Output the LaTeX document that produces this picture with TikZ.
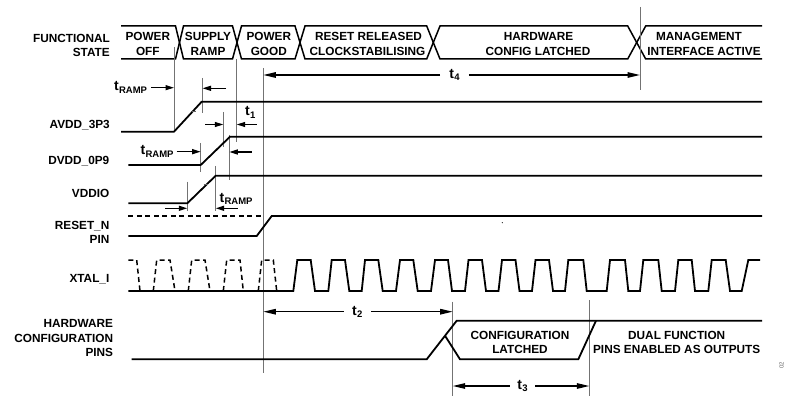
\documentclass[tikz,border=0pt]{standalone}
\usepackage{fontspec}
\setmainfont{Liberation Sans}
\usetikzlibrary{arrows.meta}
\newcommand{\tsubx}[1]{t\kern0.2pt\raisebox{-2.5pt}{\fontsize{9.5}{10}\selectfont #1}}
\begin{document}
\begin{tikzpicture}[x=1pt,y=-1pt,
  txt/.style={font=\fontsize{11.8}{14}\selectfont\bfseries, inner sep=0pt},
  lab/.style={txt, anchor=base east},
  stt/.style={txt, anchor=base},
  tlab/.style={font=\fontsize{14}{16}\selectfont\bfseries, inner sep=0pt},
  sig/.style={line width=1.8pt, line join=miter, line cap=butt},
  dsig/.style={line width=1.5pt, line join=miter, dash pattern=on 5pt off 3.5pt},
  bar/.style={line width=1.5pt, line join=miter},
  refl/.style={line width=0.9pt, draw=black!55},
  dimarr/.style={line width=1.3pt, -{Triangle[length=8.5pt,width=5pt]}},
  longarr/.style={line width=1.3pt, -{Triangle[length=12.5pt,width=5.5pt]}},
  tick/.style={line width=0.7pt, draw=black!60},
]
\useasboundingbox (0,0) rectangle (786,398);

% ---------- functional state bar ----------
\draw[bar] (121,26) -- (175.5,26) -- (179.5,42.5) -- (175.5,59) -- (121,59);
\draw[bar] (179.5,42.5) -- (183.5,26) -- (232.5,26) -- (237,42.5) -- (232.5,59) -- (183.5,59) -- cycle;
\draw[bar] (237,42.5) -- (241.5,26) -- (295,26) -- (300,42.5) -- (295,59) -- (241.5,59) -- cycle;
\draw[bar] (300,42.5) -- (305,26) -- (426.7,26) -- (433.3,42.5) -- (426.7,59) -- (305,59) -- cycle;
\draw[bar] (433.3,42.5) -- (440,26) -- (627.7,26) -- (636.7,42.5) -- (627.7,59) -- (440,59) -- cycle;
\draw[bar] (762,26) -- (645.7,26) -- (636.7,42.5) -- (645.7,59) -- (762,59);

\node[stt] (s1a) at (147.8,40.8) {POWER};
\node[stt] (s1b) at (147.8,55.2) {OFF};
\node[stt] (s2a) at (208,40.8) {SUPPLY};
\node[stt] (s2b) at (208,55.2) {RAMP};
\node[stt] (s3a) at (268.8,40.8) {POWER};
\node[stt] (s3b) at (268.8,55.2) {GOOD};
\node[stt] (s4a) at (368.5,40.8) {RESET RELEASED};
\node[stt] (s4b) at (367.5,55.2) {CLOCKSTABILISING};
\node[stt] (s5a) at (538.5,40.8) {HARDWARE};
\node[stt] (s5b) at (538,55.2) {CONFIG LATCHED};
\node[stt] (s6a) at (699,40.8) {MANAGEMENT};
\node[stt] (s6b) at (704,55.2) {INTERFACE ACTIVE};

% ---------- left labels ----------
\node[lab] (lf1) at (110,43) {FUNCTIONAL};
\node[lab] (lf2) at (110,57) {STATE};
\node[lab] (lav) at (110,128.3) {AVDD\_3P3};
\node[lab] (ldv) at (109.5,164.3) {DVDD\_0P9};
\node[lab] (lvd) at (109.5,197.5) {VDDIO};
\node[lab] (lrs1) at (109.5,229) {RESET\_N};
\node[lab] (lrs2) at (109.5,243) {PIN};
\node[lab] (lxt) at (109.5,282) {XTAL\_I};
\node[lab] (lh1) at (113.3,327.7) {HARDWARE};
\node[lab] (lh2) at (113.3,342) {CONFIGURATION};
\node[lab] (lh3) at (113.3,356) {PINS};

% ---------- vertical reference lines ----------
\coordinate (vA0) at (174,47);    \draw[refl] (vA0) -- (174,131.7);
\coordinate (vA1) at (202.5,78);  \draw[refl] (vA1) -- (202.5,113);
\coordinate (vD0) at (200.7,143); \draw[refl] (vD0) -- (200.7,172);
\coordinate (vD1) at (229.3,135); \draw[refl] (vD1) -- (229.3,180);
\coordinate (vT)  at (223.3,112); \draw[refl] (vT) -- (223.3,147);
\coordinate (vP)  at (236.7,59);  \draw[refl] (vP) -- (236.7,142);
\coordinate (vV0) at (187.3,181.7); \draw[refl] (vV0) -- (187.3,211);
\coordinate (vV1) at (215.7,166); \draw[refl] (vV1) -- (215.7,211);
\coordinate (vR)  at (263.3,68);  \draw[refl] (vR) -- (263.3,373);
\coordinate (vC0) at (452.7,301.7); \draw[refl] (vC0) -- (452.7,396);
\coordinate (vC1) at (589.3,300); \draw[refl] (vC1) -- (589.3,396);
\coordinate (vM)  at (640,7);     \draw[refl] (vM) -- (640,90);

% ---------- supply signals ----------
\draw[sig] (121,131.7) -- (174,131.7) -- (201.7,101.7) -- (762,101.7);
\draw[sig] (128.3,165) -- (200.7,165) -- (230,136.7) -- (762,136.7);
\draw[sig] (128.3,203.3) -- (187.3,203.3) -- (215.7,175.7) -- (762,175.7);
\draw[tick] (191.5,111.3) -- (195.5,111.3);
\draw[tick] (203.5,184.3) -- (207.5,184.3);

% ---------- RESET_N ----------
\draw[dsig] (128.3,216) -- (264,216);
\draw[sig] (128.3,236) -- (256.7,236) -- (271.7,216) -- (762,216);
\fill (502.3,222.7) circle (0.6pt);

% ---------- XTAL_I ----------
\draw[dsig] (128.3,260) -- (136.7,260) -- (140,291);
\draw[dsig] (153.3,291) -- (156.7,260) -- (170,260) -- (175,291);
\draw[dsig] (188.3,291) -- (191.7,260) -- (205,260) -- (210,291);
\draw[dsig] (223.3,291) -- (226.7,260) -- (240,260) -- (243.3,291);
\draw[dsig] (258.3,291) -- (261.7,260) -- (273.3,260) -- (276.7,291);
\draw[sig] (128.3,291) -- (293.3,291) -- (297.3,260) -- (310.7,260) -- (315,291)
  -- (328.3,291) -- (331.7,260) -- (345,260) -- (349.3,291)
  -- (361.7,291) -- (365,260) -- (378.3,260) -- (382.7,291)
  -- (396,291) -- (400,260) -- (413.3,260) -- (417.7,291)
  -- (431,291) -- (435,260) -- (448,260) -- (452,291)
  -- (465,291) -- (468.5,260) -- (482,260) -- (486,291)
  -- (498.5,291) -- (502,260) -- (515.5,260) -- (519.5,291)
  -- (532,291) -- (535.5,260) -- (549,260) -- (553,291)
  -- (565,291) -- (568.3,260) -- (583.3,260) -- (586.7,291)
  -- (606.7,291) -- (610,260) -- (625,260) -- (628.3,291)
  -- (640,291) -- (643.3,260) -- (658.3,260) -- (661.7,291)
  -- (675,291) -- (678.3,260) -- (691.7,260) -- (695,291)
  -- (708.3,291) -- (711.7,260) -- (725.7,260) -- (730,291)
  -- (741.7,291) -- (748.3,260) -- (760,260);

% ---------- hardware configuration pins ----------
\draw[sig] (131.7,359.3) -- (426.7,359.3) -- (456.7,320.7) -- (762,320.7);
\draw[sig] (445,335.7) -- (460,359.3) -- (578.3,359.3) -- (596,320.7);
\node[stt] (cl1) at (520,339) {CONFIGURATION};
\node[stt] (cl2) at (520,353.3) {LATCHED};
\node[stt] (df1) at (676.7,339) {DUAL FUNCTION};
\node[stt] (df2) at (676.7,353.3) {PINS ENABLED AS OUTPUTS};

% ---------- timing annotations ----------
\node[tlab, anchor=base west] (lr1) at (114,91) {\tsubx{RAMP}};
\draw[dimarr] ([xshift=4pt]lr1.east) -- (lr1.east -| vA0);
\coordinate (a1s) at (226,88.3);
\coordinate (a1e) at (202.5,88.3);
\draw[dimarr] (a1s) -- (a1e);

\coordinate (t1s) at (205,124.5);
\draw[dimarr] (t1s) -- (t1s -| vT);
\node[tlab, anchor=base west] (lt1) at (245,116) {\tsubx{1}};
\coordinate (t1e) at (256.7,124.5);
\draw[dimarr] (t1e) -- (t1e -| vP);

\node[tlab, anchor=base west] (lr2) at (140.5,155) {\tsubx{RAMP}};
\draw[dimarr] ([xshift=3pt]lr2.east) -- (lr2.east -| vD0);
\coordinate (a2s) at (251.7,152);
\draw[dimarr] (a2s) -- (a2s -| vD1);

\coordinate (a3s) at (165,208.3);
\draw[dimarr] (a3s) -- (a3s -| vV0);
\node[tlab, anchor=base west] (lr3) at (219.5,202) {\tsubx{RAMP}};
\coordinate (a3e) at (237.5,208.3);
\draw[dimarr] (a3e) -- (a3e -| vV1);

\node[tlab, inner xsep=9pt] (lt4) at (454.5,75) {\tsubx{4}};
\draw[longarr] (lt4.west) -- (lt4.west -| vR);
\draw[longarr] (lt4.east) -- (lt4.east -| vM);

\node[tlab, inner xsep=8.5pt] (lt2) at (357.3,311.7) {\tsubx{2}};
\draw[longarr] (lt2.west) -- (lt2.west -| vR);
\draw[longarr] (lt2.east) -- (lt2.east -| vC0);

\node[tlab, inner xsep=7.5pt] (lt3) at (522.5,386) {\tsubx{3}};
\draw[longarr] (lt3.west) -- (lt3.west -| vC0);
\draw[longarr] (lt3.east) -- (lt3.east -| vC1);

\node[font=\fontsize{6}{7}\selectfont, text=black!60, rotate=90, inner sep=0pt] (fig) at (781.5,365) {02};
\end{tikzpicture}
\end{document}
